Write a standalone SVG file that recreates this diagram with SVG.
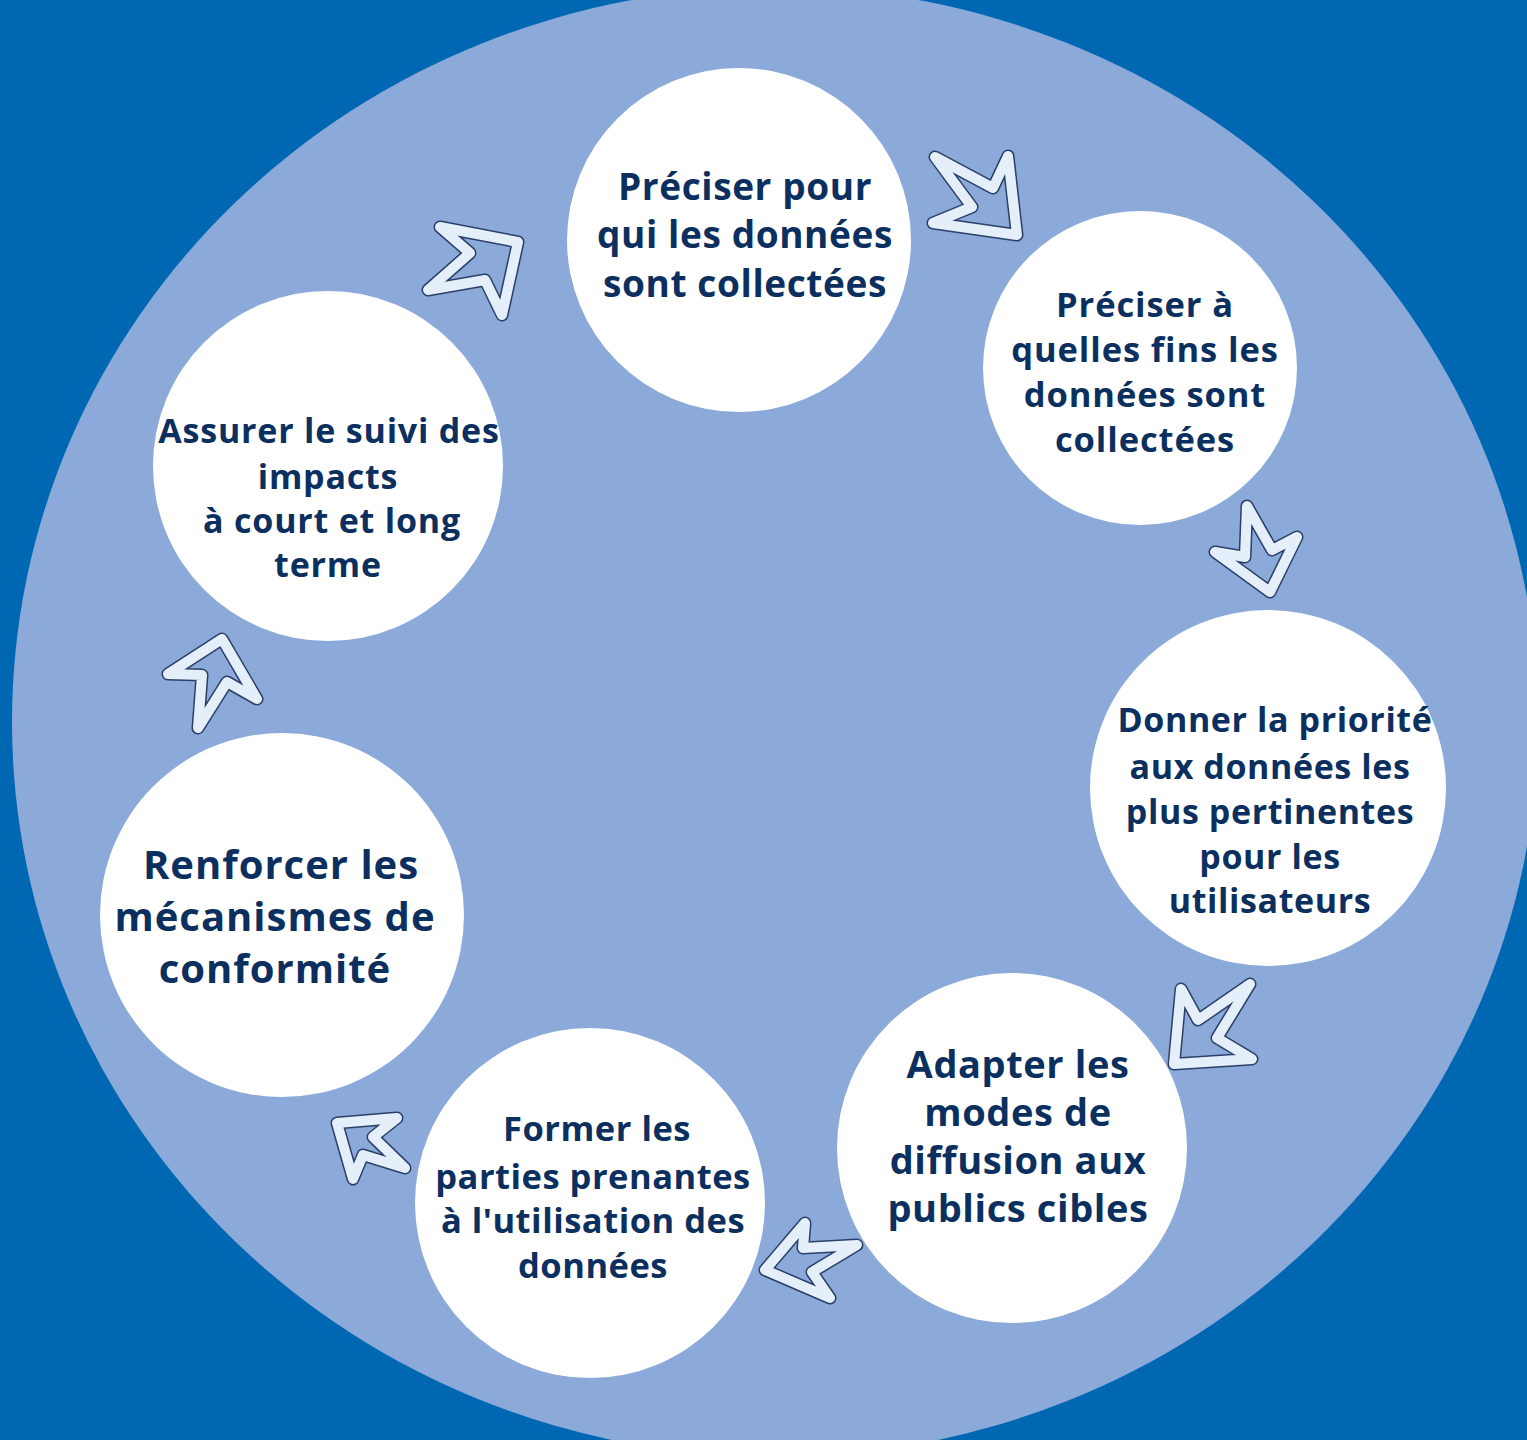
<svg xmlns="http://www.w3.org/2000/svg" width="1527" height="1440" viewBox="0 0 1527 1440">
<style>
.bg{fill:#0068B3}
.ring{fill:#8BA9D9}
.node{fill:#FFFFFF}
.t{font-family:"Open Sans","Noto Sans","Liberation Sans",sans-serif;font-weight:700;fill:#0B2F5E;text-anchor:middle;font-variant-ligatures:none}
.ao{fill:none;stroke:#2B3F68;stroke-width:13;stroke-linejoin:round;stroke-linecap:round}
.ai{fill:none;stroke:#E4EFFA;stroke-width:10;stroke-linejoin:round;stroke-linecap:round}
</style>
<defs>
<path id="a1" d="M935,157 L993,188 L1008,156 L1017,235 L933,223 L972,207 Z"/>
<path id="a2" d="M440,227 L518,242 L502,315 L485,280 L428,290 L470,253 Z"/>
<path id="a3" d="M1247,506 L1245,557 L1215,552 L1270,592 L1297,537 L1272,550 Z"/>
<path id="a4" d="M1181,989 L1174,1064 L1252,1059 L1217,1038 L1250,984 L1198,1020 Z"/>
<path id="a5" d="M765,1270 L805,1223 L803,1248 L857,1245 L812,1272 L830,1298 Z"/>
<path id="a6" d="M337,1123 L397,1118 L373,1137 L405,1168 L363,1155 L353,1179 Z"/>
<path id="a7" d="M222,639 L257,699 L227,682 L198,728 L202,675 L168,674 Z"/>
</defs>
<rect class="bg" x="0" y="0" width="1527" height="1440"/>
<ellipse class="ring" cx="775" cy="722" rx="763" ry="735"/>
<g id="connectors">
<use href="#a1" class="ao"/><use href="#a1" class="ai"/>
<use href="#a2" class="ao"/><use href="#a2" class="ai"/>
<use href="#a3" class="ao"/><use href="#a3" class="ai"/>
<use href="#a4" class="ao"/><use href="#a4" class="ai"/>
<use href="#a5" class="ao"/><use href="#a5" class="ai"/>
<use href="#a6" class="ao"/><use href="#a6" class="ai"/>
<use href="#a7" class="ao"/><use href="#a7" class="ai"/>
</g>
<g id="node1">
<circle class="node" cx="739" cy="240" r="172"/>
<text class="t" font-size="37" letter-spacing="0.6"><tspan x="745" y="200">Préciser pour</tspan><tspan x="745" y="248">qui les données</tspan><tspan x="745" y="297">sont collectées</tspan></text>
</g>
<g id="node2">
<circle class="node" cx="1140" cy="368" r="157"/>
<text class="t" font-size="34.5" letter-spacing="0.9"><tspan x="1145" y="317">Préciser à</tspan><tspan x="1145" y="362">quelles fins les</tspan><tspan x="1145" y="407">données sont</tspan><tspan x="1145" y="452">collectées</tspan></text>
</g>
<g id="node3">
<circle class="node" cx="1268" cy="788" r="178"/>
<text class="t" font-size="34" letter-spacing="0.6"><tspan x="1275" y="732">Donner la priorité</tspan><tspan x="1270" y="779">aux données les</tspan><tspan x="1270" y="824">plus pertinentes</tspan><tspan x="1270" y="869">pour les</tspan><tspan x="1270" y="913">utilisateurs</tspan></text>
</g>
<g id="node4">
<circle class="node" cx="1012" cy="1148" r="175"/>
<text class="t" font-size="38" letter-spacing="0.6"><tspan x="1018" y="1078">Adapter les</tspan><tspan x="1018" y="1126">modes de</tspan><tspan x="1018" y="1174">diffusion aux</tspan><tspan x="1018" y="1222">publics cibles</tspan></text>
</g>
<g id="node5">
<circle class="node" cx="590" cy="1203" r="175"/>
<text class="t" font-size="34.5" letter-spacing="0.5"><tspan x="597" y="1141">Former les</tspan><tspan x="593" y="1189">parties prenantes</tspan><tspan x="593" y="1233">à l'utilisation des</tspan><tspan x="593" y="1278">données</tspan></text>
</g>
<g id="node6">
<circle class="node" cx="282" cy="915" r="182"/>
<text class="t" font-size="40" letter-spacing="1"><tspan x="281" y="879">Renforcer les</tspan><tspan x="275" y="931">mécanismes de</tspan><tspan x="275" y="983">conformité</tspan></text>
</g>
<g id="node7">
<circle class="node" cx="328" cy="466" r="175"/>
<text class="t" font-size="34" letter-spacing="0.8"><tspan x="329" y="443">Assurer le suivi des</tspan><tspan x="328" y="489">impacts</tspan><tspan x="332" y="533">à court et long</tspan><tspan x="328" y="577">terme</tspan></text>
</g>
</svg>
